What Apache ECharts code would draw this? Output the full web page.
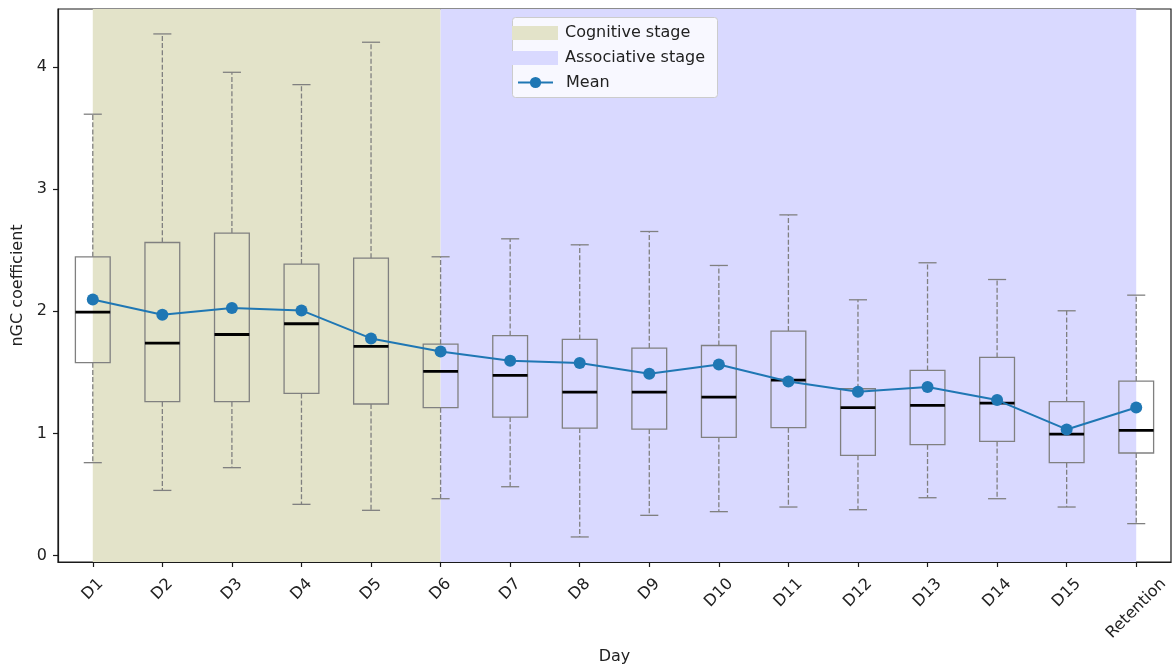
<!DOCTYPE html>
<html>
<head>
<meta charset="utf-8">
<script src="https://cdn.jsdelivr.net/npm/echarts@6/dist/echarts.min.js"></script>
<style>
html,body{margin:0;padding:0;background:#fff;}
#chart{width:1175px;height:669px;}
</style>
</head>
<body>
<div id="chart"></div>
<script>
// ---- data ----
const days = ['D1','D2','D3','D4','D5','D6','D7','D8','D9','D10','D11','D12','D13','D14','D15','Retention'];
const whiskerLow  = [0.761,0.534,0.720,0.420,0.371,0.466,0.564,0.153,0.330,0.360,0.398,0.376,0.474,0.466,0.398,0.262];
const quartile1   = [1.579,1.260,1.260,1.328,1.241,1.211,1.134,1.044,1.036,0.968,1.047,0.821,0.908,0.935,0.761,0.840];
const medians     = [1.993,1.740,1.810,1.898,1.712,1.508,1.475,1.339,1.339,1.298,1.437,1.211,1.230,1.249,0.995,1.025];
const quartile3   = [2.446,2.563,2.640,2.386,2.435,1.731,1.800,1.770,1.699,1.720,1.838,1.366,1.516,1.622,1.260,1.429];
const whiskerHigh = [3.613,4.270,3.956,3.855,4.202,2.446,2.593,2.544,2.653,2.375,2.789,2.094,2.397,2.260,2.004,2.132];
const meanValues  = [2.097,1.971,2.026,2.007,1.778,1.671,1.595,1.576,1.489,1.565,1.426,1.342,1.380,1.273,1.033,1.213];
const yTicks = [0,1,2,3,4];
const cognitiveStage = ['D1','D6'];
const associativeStage = ['D6','Retention'];

// ---- styling ----
const FONT = 'DejaVu Sans';
const TXT = '#222';
const COG = '#e3e3c9';
const ASSOC = '#d9d9ff';
const MEAN = '#1f77b4';
const GREY = '#808080';
const AX = '#1a1a1a';
const TICK_FS = 16;
const TICK_LH = 16;

// centre rotated tick labels on their ticks like matplotlib (rotation 45, ha=center)
const ctx = document.createElement('canvas').getContext('2d');
ctx.font = TICK_FS + 'px "' + FONT + '"';
const widths = days.map(d => ctx.measureText(d).width);
const w0 = Math.min.apply(null, widths);
const xCats = days.map((d, i) => {
  const t = 0.25 * (widths[i] - w0);
  const r = TICK_LH + 2 * t;
  return {
    value: d,
    textStyle: {
      align: 'center', verticalAlign: 'top', lineHeight: TICK_LH, padding: [t, r, 0, 0],
      fontSize: TICK_FS, color: TXT, fontFamily: FONT
    }
  };
});

const boxData = days.map((d, i) => [i, whiskerLow[i], quartile1[i], medians[i], quartile3[i], whiskerHigh[i]]);

function renderBox(params, api) {
  const i = api.value(0);
  const band = api.size([1, 0])[0];
  const hw = band * 0.25, cw = band * 0.13;
  const pLow = api.coord([i, api.value(1)]);
  const pQ1 = api.coord([i, api.value(2)]);
  const pMed = api.coord([i, api.value(3)]);
  const pQ3 = api.coord([i, api.value(4)]);
  const pHigh = api.coord([i, api.value(5)]);
  const cx = pQ1[0];
  const whisk = { stroke: GREY, lineWidth: 1.3, lineDash: [5, 2.2], fill: null };
  const solid = { stroke: GREY, lineWidth: 1.3, fill: null };
  return {
    type: 'group',
    children: [
      { type: 'line', shape: { x1: cx, y1: pQ1[1], x2: cx, y2: pLow[1] }, style: whisk },
      { type: 'line', shape: { x1: cx, y1: pQ3[1], x2: cx, y2: pHigh[1] }, style: whisk },
      { type: 'line', shape: { x1: cx - cw, y1: pLow[1], x2: cx + cw, y2: pLow[1] }, style: solid },
      { type: 'line', shape: { x1: cx - cw, y1: pHigh[1], x2: cx + cw, y2: pHigh[1] }, style: solid },
      { type: 'rect', shape: { x: cx - hw, y: pQ3[1], width: 2 * hw, height: pQ1[1] - pQ3[1] }, style: { stroke: GREY, lineWidth: 1.3, fill: 'none' } },
      { type: 'line', shape: { x1: cx - hw, y1: pMed[1], x2: cx + hw, y2: pMed[1] }, style: { stroke: '#000', lineWidth: 2.8 } }
    ]
  };
}

const chart = echarts.init(document.getElementById('chart'), null, { renderer: 'canvas' });
chart.setOption({
  animation: false,
  backgroundColor: '#fff',
  textStyle: { fontFamily: FONT },
  grid: {
    left: 58, right: 4, top: 9, bottom: 107, containLabel: false, outerBoundsMode: 'none',
    show: true, borderColor: AX, borderWidth: 1.2, backgroundColor: 'transparent'
  },
  xAxis: {
    type: 'category',
    data: xCats,
    boundaryGap: true,
    name: 'Day',
    nameLocation: 'middle',
    nameGap: 86,
    nameTextStyle: { fontSize: 16, color: TXT, fontFamily: FONT },
    axisLine: { show: true, onZero: false, lineStyle: { color: AX, width: 1.2 } },
    axisTick: { show: true, alignWithLabel: true, length: 5, lineStyle: { color: AX, width: 1.2 } },
    axisLabel: { interval: 0, rotate: 45, margin: 16, fontSize: TICK_FS, color: TXT, fontFamily: FONT, hideOverlap: false },
    splitLine: { show: false }
  },
  yAxis: {
    type: 'value',
    min: -0.052,
    max: 4.474,
    name: 'nGC coefficient',
    nameLocation: 'middle',
    nameGap: 32,
    nameTextStyle: { fontSize: 16, color: TXT, fontFamily: FONT },
    axisLine: { show: true, onZero: false, lineStyle: { color: AX, width: 1.2 } },
    axisTick: { show: true, length: 5, customValues: yTicks, lineStyle: { color: AX, width: 1.2 } },
    axisLabel: { customValues: yTicks, margin: 11, fontSize: TICK_FS, color: TXT, fontFamily: FONT },
    splitLine: { show: false }
  },
  legend: [
    {
      data: [{ name: 'Cognitive stage', icon: 'rect' }, { name: 'Associative stage', icon: 'rect' }],
      orient: 'vertical', left: 512, top: 25, itemWidth: 46, itemHeight: 14, itemGap: 9, padding: 0,
      selectedMode: false, z: 10,
      textStyle: { fontSize: 16, color: TXT, fontFamily: FONT, padding: [0, 0, 0, 2] }
    },
    {
      data: ['Mean'],
      orient: 'vertical', left: 517, top: 74.5, itemWidth: 35, itemHeight: 14, padding: 0,
      selectedMode: false, z: 10,
      textStyle: { fontSize: 16, color: TXT, fontFamily: FONT, padding: [0, 0, 0, 8] }
    }
  ],
  graphic: [
    { type: 'rect', left: 512, top: 17, z: 8, shape: { width: 205, height: 80, r: 3 }, style: { fill: 'rgba(255,255,255,0.8)', stroke: '#cccccc', lineWidth: 1 } }
  ],
  series: [
    {
      name: 'stages', type: 'line', data: [], z: 0, silent: true,
      markArea: {
        silent: true,
        data: [
          [{ xAxis: cognitiveStage[0], itemStyle: { color: COG } }, { xAxis: cognitiveStage[1] }],
          [{ xAxis: associativeStage[0], itemStyle: { color: ASSOC } }, { xAxis: associativeStage[1] }]
        ]
      }
    },
    { name: 'Cognitive stage', type: 'bar', data: [], itemStyle: { color: COG } },
    { name: 'Associative stage', type: 'bar', data: [], itemStyle: { color: ASSOC } },
    {
      name: 'boxes', type: 'custom', renderItem: renderBox, data: boxData, z: 2, silent: true,
      encode: { x: 0, y: [1, 2, 3, 4, 5] }
    },
    {
      name: 'Mean', type: 'line', data: meanValues, z: 4, silent: true,
      symbol: 'circle', symbolSize: 12,
      lineStyle: { color: MEAN, width: 2 },
      itemStyle: { color: MEAN }
    }
  ]
});
</script>
</body>
</html>
